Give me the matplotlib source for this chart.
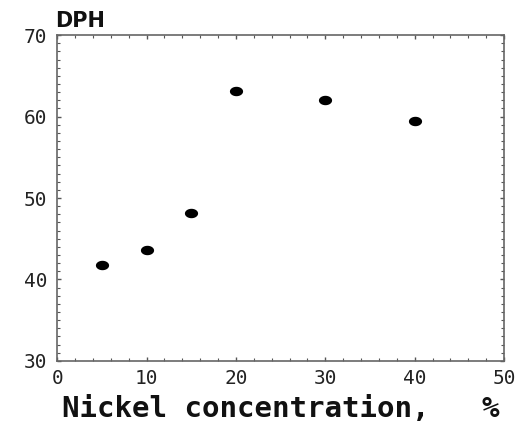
import numpy as np
import matplotlib
matplotlib.use("Agg")
import matplotlib.pyplot as plt
from matplotlib.path import Path
from matplotlib.ticker import MultipleLocator

# data
nickel = [5, 10, 15, 20, 30, 40]
dph = [41.8, 43.6, 48.2, 63.1, 62.1, 59.4]

x_ticks = [0, 10, 20, 30, 40, 50]
y_ticks = [30, 40, 50, 60, 70]

FONT = "DejaVu Sans Mono"

# flattened dot marker (wider than tall)
t = np.linspace(0, 2 * np.pi, 40)
dot = Path(np.column_stack([1.4 * np.cos(t), np.sin(t)]))

fig = plt.figure(figsize=(5.25, 4.24), dpi=100)
ax = fig.add_axes([0.109, 0.149, 0.851, 0.768])

ax.plot(nickel, dph, linestyle="none", marker=dot, markersize=9.5,
        color="black", markeredgewidth=0)

ax.set_xlim(0, 50)
ax.set_ylim(30, 70)
ax.set_xticks(x_ticks)
ax.set_yticks(y_ticks)
ax.xaxis.set_minor_locator(MultipleLocator(2))
ax.yaxis.set_minor_locator(MultipleLocator(1))

ax.tick_params(which="both", direction="in", top=True, right=True,
               color="#555555")
ax.tick_params(which="major", length=3, width=1)
ax.tick_params(which="minor", length=2, width=0.8)
ax.tick_params(axis="x", pad=6)
ax.tick_params(axis="y", pad=7)

for lab in ax.get_xticklabels() + ax.get_yticklabels():
    lab.set_fontfamily(FONT)
    lab.set_fontsize(14)
    lab.set_color("#222222")

for s in ax.spines.values():
    s.set_color("#666666")
    s.set_linewidth(1.2)

ax.set_xlabel("Nickel concentration,   %", fontfamily=FONT, fontsize=21,
              fontweight="bold", color="#111111")
ax.xaxis.set_label_coords(0.5, -0.105)

ax.text(-0.005, 1.012, "DPH", transform=ax.transAxes, ha="left", va="bottom",
        fontfamily="DejaVu Sans", fontsize=15, fontweight="bold",
        color="#111111")

fig.savefig("out.png", dpi=100, facecolor="white")
